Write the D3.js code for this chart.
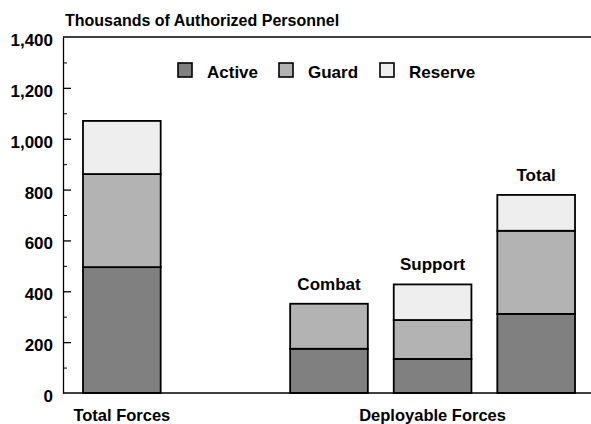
<!DOCTYPE html>
<html>
<head>
<meta charset="utf-8">
<script src="https://cdn.jsdelivr.net/npm/d3@7"></script>
<style>
  body { margin: 0; background: #fff; }
  svg text { font-family: "Liberation Sans", Arial, sans-serif; font-weight: bold; fill: #000; }
</style>
</head>
<body>
<svg id="chart" width="591" height="424"></svg>
<script>
// data (thousands of authorized personnel)
var categories = ["Total Forces", "", "Combat", "Support", "Total"];
var barLabels  = ["", "", "Combat", "Support", "Total"];
var active  = [495, 0, 174, 134, 311];
var guard   = [366, 0, 177, 153, 327];
var reserve = [209, 0, 0, 140, 141];
var seriesNames = ["Active", "Guard", "Reserve"];
var seriesColors = ["#808080", "#b3b3b3", "#eeeeee"];
var yTicks = [0, 200, 400, 600, 800, 1000, 1200, 1400];
var yMinorTicks = [100, 300, 500, 700, 900, 1100, 1300];
var groupLabels = ["Total Forces", "Deployable Forces"];
var groupCenters = ["Total Forces", "Support"];   // bar each group label sits under

var svg = d3.select("#chart");
var margin = {top: 37, right: 0, bottom: 31, left: 63};
var width = +svg.attr("width") - margin.left - margin.right,
    height = +svg.attr("height") - margin.top - margin.bottom;

var g = svg.append("g").attr("transform", "translate(" + margin.left + "," + margin.top + ")");

var x = d3.scaleBand().domain(categories).range([3, width + 1]).paddingInner(0.25).paddingOuter(0.164);
var y = d3.scaleLinear().domain([0, 1400]).range([height, 0]);

// build stack rows
var rows = categories.map(function(c, i) {
  return {cat: c, Active: active[i], Guard: guard[i], Reserve: reserve[i]};
});
var stack = d3.stack().keys(seriesNames)(rows);

// title
svg.append("text")
  .attr("x", 65).attr("y", 26)
  .style("font-size", "16px")
  .text("Thousands of Authorized Personnel");

// top border
g.append("line")
  .attr("x1", 0).attr("x2", width)
  .attr("y1", 0).attr("y2", 0)
  .attr("stroke", "#000").attr("stroke-width", 1.7);

// bars
stack.forEach(function(layer, k) {
  g.selectAll("rect.s" + k)
    .data(layer.filter(function(d) { return d[1] - d[0] > 0; }))
    .enter().append("rect")
    .attr("class", "s" + k)
    .attr("x", function(d) { return x(d.data.cat); })
    .attr("y", function(d) { return y(d[1]); })
    .attr("width", x.bandwidth())
    .attr("height", function(d) { return y(d[0]) - y(d[1]); })
    .attr("fill", seriesColors[k])
    .attr("stroke", "#000")
    .attr("stroke-width", 1.8);
});

// bar labels
g.selectAll("text.barlabel")
  .data(rows.filter(function(d, i) { return barLabels[i] !== ""; }))
  .enter().append("text")
  .attr("class", "barlabel")
  .attr("x", function(d) { return x(d.cat) + x.bandwidth() / 2; })
  .attr("y", function(d) { return y(d.Active + d.Guard + d.Reserve) - 14; })
  .attr("text-anchor", "middle")
  .style("font-size", "17px")
  .text(function(d) { return d.cat; });

// y axis
var yaxis = g.append("g")
  .call(d3.axisLeft(y).tickValues(yTicks).tickSize(-8).tickSizeOuter(0).tickPadding(10)
    .tickFormat(d3.format(",")));
yaxis.select(".domain").attr("stroke-width", 1.3);
yaxis.selectAll(".tick line").attr("stroke-width", 1.3)
  .filter(function(d) { return d === 0 || d === 1400; }).remove();
yaxis.selectAll(".tick text")
  .attr("dy", "0.5em")
  .style("font-size", "17px")
  .style("font-family", "Liberation Sans, Arial, sans-serif")
  .style("font-weight", "bold");

var yminor = g.append("g")
  .call(d3.axisLeft(y).tickValues(yMinorTicks).tickSize(-4).tickFormat(""));
yminor.select(".domain").remove();
yminor.selectAll(".tick line").attr("stroke-width", 1);

// x baseline
g.append("line")
  .attr("x1", 0).attr("x2", width)
  .attr("y1", height).attr("y2", height)
  .attr("stroke", "#000").attr("stroke-width", 1.7);

// group labels
g.selectAll("text.group")
  .data(groupLabels)
  .enter().append("text")
  .attr("class", "group")
  .attr("x", function(d, i) { return x(groupCenters[i]) + x.bandwidth() / 2; })
  .attr("y", height + 28)
  .attr("text-anchor", "middle")
  .style("font-size", "16.5px")
  .text(function(d) { return d; });

// legend
var legendX = [178, 279, 380];
var legend = svg.append("g");
seriesNames.forEach(function(name, k) {
  legend.append("rect")
    .attr("x", legendX[k]).attr("y", 63)
    .attr("width", 14).attr("height", 14)
    .attr("fill", seriesColors[k])
    .attr("stroke", "#000").attr("stroke-width", 1.6);
  legend.append("text")
    .attr("x", legendX[k] + 29).attr("y", 78)
    .style("font-size", "17px")
    .text(name);
});
</script>
</body>
</html>
